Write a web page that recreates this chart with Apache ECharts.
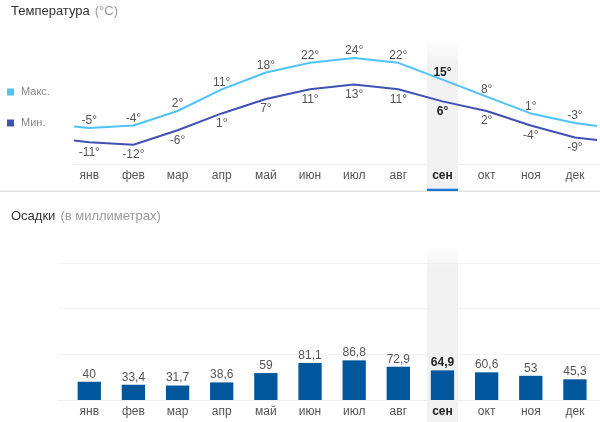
<!DOCTYPE html>
<html><head><meta charset="utf-8">
<style>html,body{margin:0;padding:0;background:#fff}#c{width:600px;height:422px}</style>
<script src="https://cdn.jsdelivr.net/npm/echarts@6/dist/echarts.min.js"></script>
</head><body><div id="c"></div>
<script>
const months = ['янв','фев','мар','апр','май','июн','июл','авг','сен','окт','ноя','дек'];
const maxTemp = [-5,-4,2,11,18,22,24,22,15,8,1,-3];
const minTemp = [-11,-12,-6,1,7,11,13,11,6,2,-4,-9];
const maxEdges = [-4.4,-4.2];
const minEdges = [-10.2,-10.0];
const rain = [40,33.4,31.7,38.6,59,81.1,86.8,72.9,64.9,60.6,53,45.3];
const focusMonth = 'сен';

const SANS = '"Liberation Sans", Arial, sans-serif';
const focusIdx = months.indexOf(focusMonth);
const LEFT = 67.2, RIGHT = 3;
const C_MAX = '#4fc3f7', C_MIN = '#3f51b5', C_BAR = '#01579b';

function linePts(vals, edges){
  const pts = [{value:[-0.346,edges[0]],label:{show:false}}];
  vals.forEach((v,i)=>pts.push({value:[i,v],label:{fontWeight:i===focusIdx?'bold':'normal',color:i===focusIdx?'#222':'#555'}}));
  pts.push({value:[11.5,edges[1]],label:{show:false}});
  return pts;
}
function catAxis(grid,extra){
  return Object.assign({type:'category',gridIndex:grid,data:months,axisLine:{show:false,onZero:false},axisTick:{show:false},axisLabel:{show:false},splitLine:{show:false}},extra||{});
}
const monthLabel = {
  show:true,margin:6,fontFamily:SANS,fontSize:12,color:'#555',
  interval:0,
  formatter:(v)=>v===focusMonth?`{b|${v}}`:v,
  rich:{b:{fontWeight:'bold',color:'#222',fontSize:12,fontFamily:SANS}}
};
function valAxis(grid,min,max,extra){
  return Object.assign({type:'value',gridIndex:grid,min,max,axisLine:{show:false},axisTick:{show:false},axisLabel:{show:false},splitLine:{show:false}},extra||{});
}
const TEMP_TOP = 20, TEMP_BOTTOM = 164;
// 24deg at y=58, 2.41 px per degree
const tMax = 24 + (58-TEMP_TOP)/2.41, tMin = 24 - (TEMP_BOTTOM-58)/2.41;
const richTitle = {a:{fontFamily:SANS,fontSize:13,fontWeight:'normal',color:'#333'},b:{fontFamily:SANS,fontSize:13,fontWeight:'normal',color:'#999'}};

const chart = echarts.init(document.getElementById('c'),null,{renderer:'canvas'});
chart.setOption({
  animation:false,
  backgroundColor:'#fff',
  title:[
    {left:6,top:-3,text:'{a|Температура} {b|(°C)}',textStyle:{rich:richTitle}},
    {left:6,top:202,text:'{a|Осадки} {b|(в миллиметрах)}',textStyle:{rich:richTitle}}
  ],
  legend:{
    orient:'vertical',left:2,top:81.5,itemGap:20,itemWidth:7,itemHeight:7,icon:'rect',
    textStyle:{fontFamily:SANS,fontSize:11,color:'#888',padding:[0,0,0,2]},
    data:['Макс.','Мин.']
  },
  grid:[
    {left:LEFT,right:RIGHT,top:40,height:151},           // 0 highlight top
    {left:LEFT,right:RIGHT,top:245,height:177},          // 1 highlight bottom
    {left:74,right:0,top:TEMP_TOP,bottom:422-TEMP_BOTTOM}, // 2 temp axis line
    {left:LEFT,right:RIGHT,top:TEMP_TOP,bottom:422-TEMP_BOTTOM}, // 3 temp
    {left:58,right:0,top:263,bottom:22},                 // 4 rain gridlines
    {left:LEFT,right:RIGHT,top:263,bottom:22}            // 5 rain bars
  ],
  xAxis:[
    catAxis(0),
    catAxis(1),
    catAxis(2,{axisLine:{show:true,onZero:false,lineStyle:{color:'#eeeeee',width:1}}}),
    catAxis(3,{axisLabel:monthLabel,z:6}),
    {type:'value',gridIndex:3,min:-0.5,max:11.5,show:false},
    catAxis(4,{axisLine:{show:true,onZero:false,lineStyle:{color:'#eeeeee',width:1}}}),
    catAxis(5,{axisLabel:monthLabel,z:6})
  ],
  yAxis:[
    valAxis(0,0,1),
    valAxis(1,0,1),
    valAxis(2,tMin,tMax),
    valAxis(3,tMin,tMax),
    valAxis(4,0,300,{interval:100,splitLine:{show:true,lineStyle:{color:'#f3f3f3',width:1}}}),
    valAxis(5,0,300)
  ],
  series:[
    {type:'bar',silent:true,xAxisIndex:0,yAxisIndex:0,stack:'h1',barWidth:31,z:1,
      data:months.map(m=>m===focusMonth?0.017:null),
      itemStyle:{color:'#1976d2'}},
    {type:'bar',silent:true,xAxisIndex:0,yAxisIndex:0,stack:'h1',barWidth:31,z:1,
      data:months.map(m=>m===focusMonth?0.983:null),
      itemStyle:{color:{type:'linear',x:0,y:0,x2:0,y2:1,colorStops:[{offset:0,color:'rgba(240,240,240,0)'},{offset:0.16,color:'#f1f1f1'},{offset:1,color:'#f1f1f1'}]}}},
    {type:'bar',silent:true,xAxisIndex:1,yAxisIndex:1,barWidth:31,z:1,
      data:months.map(m=>m===focusMonth?1:null),
      itemStyle:{color:{type:'linear',x:0,y:0,x2:0,y2:1,colorStops:[{offset:0,color:'rgba(240,240,240,0)'},{offset:0.14,color:'#f1f1f1'},{offset:1,color:'#f1f1f1'}]}}},
    {name:'Макс.',type:'line',xAxisIndex:4,yAxisIndex:3,z:3,data:linePts(maxTemp,maxEdges),
      symbol:'circle',symbolSize:0.01,showSymbol:true,showAllSymbol:true,
      lineStyle:{color:C_MAX,width:2},itemStyle:{color:C_MAX},
      label:{show:true,position:'top',distance:1,fontFamily:SANS,fontSize:12,color:'#555',formatter:p=>p.value[1]+'°'}},
    {name:'Мин.',type:'line',xAxisIndex:4,yAxisIndex:3,z:3,data:linePts(minTemp,minEdges),
      symbol:'circle',symbolSize:0.01,showSymbol:true,showAllSymbol:true,
      lineStyle:{color:C_MIN,width:2},itemStyle:{color:C_MIN},
      label:{show:true,position:'bottom',distance:4,fontFamily:SANS,fontSize:12,color:'#555',formatter:p=>p.value[1]+'°'}},
    {type:'bar',xAxisIndex:6,yAxisIndex:5,barWidth:23.3,z:3,
      itemStyle:{color:C_BAR},
      data:rain.map((v,i)=>({value:v,label:{fontWeight:i===focusIdx?'bold':'normal',color:i===focusIdx?'#222':'#555'}})),
      label:{show:true,position:'top',distance:1.5,fontFamily:SANS,fontSize:12,color:'#555',formatter:p=>String(p.value).replace('.',',')}}
  ],
  graphic:[{type:'rect',silent:true,z:0,shape:{x:0,y:190.5,width:600,height:1.5},style:{fill:'#e0e0e0'}}]
});
</script></body></html>
